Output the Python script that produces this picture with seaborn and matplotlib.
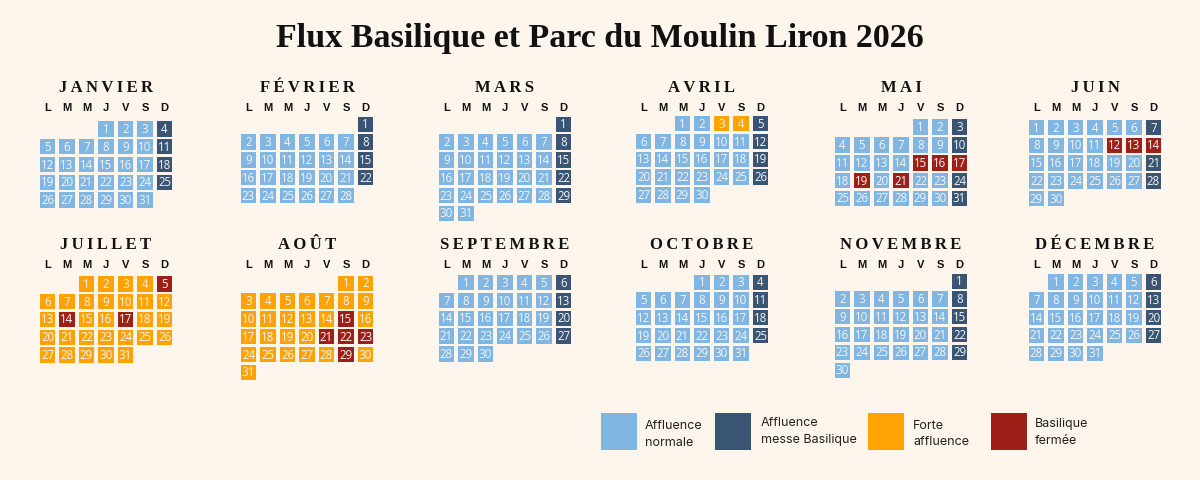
import calendar
import pandas as pd
import matplotlib.pyplot as plt
import seaborn as sns
from matplotlib.patches import Rectangle

# --- data -------------------------------------------------------------
year = 2026
mois = ["JANVIER", "FÉVRIER", "MARS", "AVRIL", "MAI", "JUIN",
        "JUILLET", "AOÛT", "SEPTEMBRE", "OCTOBRE", "NOVEMBRE", "DÉCEMBRE"]
jours = ["L", "M", "M", "J", "V", "S", "D"]

# days with Basilique mass (dark blue), per month
messe = {1: [4, 11, 18, 25], 2: [1, 8, 15, 22], 3: [1, 8, 15, 22, 29],
         4: [5, 12, 19, 26], 5: [3, 10, 24, 31], 6: [7, 21, 28],
         9: [6, 13, 20, 27], 10: [4, 11, 18, 25], 11: [1, 8, 15, 22, 29],
         12: [6, 13, 20, 27]}
# high attendance (orange)
forte = {4: [3, 4], 7: list(range(1, 32)), 8: list(range(1, 32))}
# basilica closed (red)
fermee = {5: [15, 16, 17, 19, 21], 6: [12, 13, 14], 7: [5, 14, 17],
          8: [15, 21, 22, 23, 29]}

categories = ["Affluence\nnormale", "Affluence\nmesse Basilique",
              "Forte\naffluence", "Basilique\nfermée"]
couleurs = ["#80B6E1", "#3A5574", "#FFA305", "#9E1F17"]
palette = dict(zip(categories, couleurs))

rows = []
for m in range(1, 13):
    for w, week in enumerate(calendar.monthcalendar(year, m)):
        for d, day in enumerate(week):
            if day == 0:
                continue
            if day in fermee.get(m, []):
                cat = categories[3]
            elif day in forte.get(m, []):
                cat = categories[2]
            elif day in messe.get(m, []):
                cat = categories[1]
            else:
                cat = categories[0]
            rows.append((m, w, d, day, cat))
df = pd.DataFrame(rows, columns=["mois", "semaine", "jour", "num", "cat"])

# --- layout (pixels) --------------------------------------------------
W, H = 1200, 480
BG = "#FEF5EC"
cx = [106, 307, 505, 702, 901, 1095]
y_first = [129, 124.3, 124.3, 123.8, 127.2, 127.5,
           283.8, 283.3, 282.7, 282.2, 281.2, 282]
y_title = [88.5, 245]
y_jours = [108, 264.5]
px, py = 19.5, 17.8
cell = 15.4

sns.set_theme(style="white")
plt.rcParams["font.family"] = ["Open Sans", "DejaVu Sans"]
fig = plt.figure(figsize=(W / 100, H / 100), dpi=100, facecolor=BG)


def fx(x):
    return x / W


def fy(y):
    return 1 - y / H


fig.text(fx(600), fy(38), "Flux Basilique et Parc du Moulin Liron 2026",
         ha="center", va="center", fontsize=24.5, fontweight="bold",
         family=["Liberation Serif", "DejaVu Serif"], color="#111111")

for i in range(12):
    m = i + 1
    col, r = i % 6, i // 6
    d = df[df["mois"] == m]
    nrows = d["semaine"].max() + 1
    left = cx[col] - 3.5 * px
    top = y_first[i] - py / 2
    ax = fig.add_axes([fx(left), fy(top + nrows * py), 7 * px / W, nrows * py / H])
    ax.set_facecolor("none")
    sns.scatterplot(data=d, x="jour", y="semaine", hue="cat", palette=palette,
                    marker="s", s=(cell * 0.72) ** 2, linewidth=0,
                    legend=False, ax=ax)
    for _, rw in d.iterrows():
        ax.text(rw["jour"], rw["semaine"] + 0.03, str(rw["num"]), ha="center",
                va="center", fontsize=8.3, color="#F5F5F5")
    ax.set_xlim(-0.5, 6.5)
    ax.set_ylim(nrows - 0.5, -0.5)
    ax.axis("off")

    titre = "\u2009".join(mois[i])
    fig.text(fx(cx[col]), fy(y_title[r]), titre, ha="center", va="center",
             fontsize=12, fontweight="bold",
             family=["Liberation Serif", "DejaVu Serif"], color="#111111")
    for k, j in enumerate(jours):
        fig.text(fx(cx[col] + (k - 3) * px), fy(y_jours[r]), j, ha="center",
                 va="center", fontsize=8, fontweight="bold",
                 family=["Liberation Sans", "DejaVu Sans"], color="#111111")

# --- legend -----------------------------------------------------------
leg_x = [601, 715.5, 868, 991]
txt_x = [645, 761, 913, 1035]
txt_y = [434.5, 431.5, 434.2, 432.5]
for k, lab in enumerate(categories):
    fig.patches.append(Rectangle((fx(leg_x[k]), fy(450)), 36 / W, 37 / H,
                                 transform=fig.transFigure,
                                 facecolor=couleurs[k], edgecolor="none"))
    fig.text(fx(txt_x[k]), fy(txt_y[k]), lab, ha="left", va="center",
             fontsize=9, linespacing=1.45, family=["Inter", "DejaVu Sans"],
             color="#222222")

fig.savefig("out.png", dpi=100, facecolor=BG)
